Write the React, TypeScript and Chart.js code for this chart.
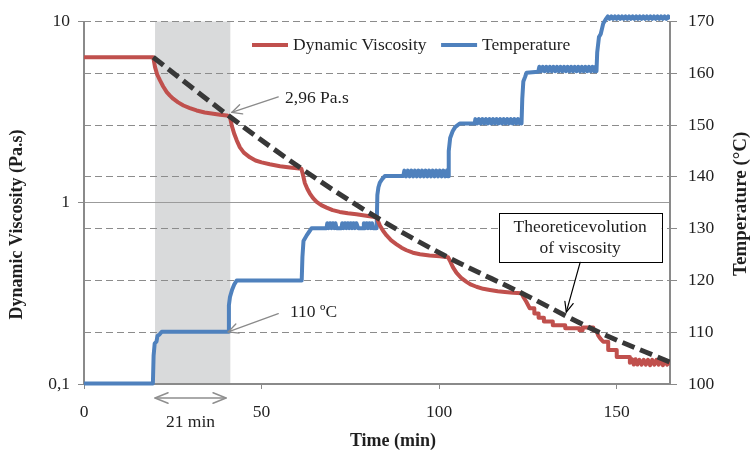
import { useEffect, useRef } from "react";
import { Chart, registerables } from "chart.js";

Chart.register(...registerables);

const FONT = "'Liberation Serif', 'Times New Roman', serif";
const TEXT = "#1f1f1f";
const AXIS = "#8a8a8a";

const seriesLabels = ["Dynamic Viscosity", "Temperature"];
const seriesColors = ["#c0504d", "#4f81bd"];
const theoryColor = "#383838";

const timeTicks = [0, 50, 100, 150];
const viscosityTicks = [0.1, 1, 10];
const viscosityTickLabels = ["0,1", "1", "10"];
const temperatureTicks = [100, 110, 120, 130, 140, 150, 160, 170];

// shaded 21-min window (min)
const heatingWindow = [20, 41.2];

// [time (min), viscosity (Pa.s)]
const viscositySeries: [number, number][] = [
  [0, 6.35], [19.5, 6.35], [20.0, 5.6], [20.6, 5.1], [21.4, 4.73], [22.3, 4.38], [23.3, 4.08],
  [24.2, 3.9], [25.1, 3.75], [26.5, 3.58], [28, 3.44], [29.8, 3.33], [31.7, 3.23], [34, 3.15],
  [36.4, 3.1], [38.3, 3.06], [40.2, 3.03], [41.0, 2.99],
  [41.3, 2.85], [41.6, 2.67], [42.3, 2.4], [43.0, 2.21], [43.9, 2.02], [45.0, 1.89], [46.7, 1.78],
  [48.3, 1.71], [50, 1.67], [52.3, 1.63], [55.2, 1.59], [58, 1.565], [61.2, 1.54],
  [61.6, 1.44], [62.2, 1.28], [62.9, 1.19], [63.6, 1.124], [64.5, 1.06], [65.5, 1.01], [66.8, 0.97],
  [68.3, 0.94], [70, 0.91], [72, 0.89], [74.3, 0.875], [76.7, 0.865], [79, 0.85], [81.4, 0.836], [82.4, 0.83],
  [82.8, 0.79], [83.3, 0.75], [84.2, 0.7], [85.2, 0.66], [86.5, 0.62], [88, 0.59], [89.4, 0.565],
  [90.8, 0.547], [92.6, 0.53], [94.6, 0.52], [97.3, 0.512], [100.2, 0.507], [102.5, 0.5],
  [103.0, 0.48], [103.9, 0.44], [104.9, 0.41], [106.2, 0.385], [107.7, 0.366], [109.0, 0.353],
  [110.5, 0.344], [112.4, 0.335], [114.3, 0.33], [116.5, 0.325], [118.5, 0.322], [120.8, 0.319], [123.2, 0.317],
  [123.8, 0.3], [124.5, 0.285], [125.5, 0.262], [126.8, 0.262], [126.8, 0.245], [128.0, 0.245],
  [128.0, 0.232], [129.5, 0.232], [129.5, 0.221], [132.0, 0.221], [132.0, 0.211], [135.5, 0.211],
  [135.5, 0.203], [139.5, 0.203], [139.5, 0.198], [140.4, 0.198], [140.4, 0.205], [143.4, 0.205],
  [143.4, 0.198], [144.3, 0.196],
  [144.8, 0.185], [145.4, 0.178], [146.2, 0.171], [147.6, 0.171], [147.6, 0.154], [150.0, 0.154],
  [150.0, 0.141], [153.7, 0.141], [153.7, 0.131], [154.3, 0.137], [154.8, 0.128], [155.3, 0.137],
  [155.8, 0.128], [156.4, 0.136], [157, 0.128], [157.6, 0.136], [158.2, 0.128], [158.8, 0.136],
  [159.4, 0.127], [160, 0.136], [160.6, 0.128], [161.2, 0.136], [161.8, 0.128], [162.4, 0.136],
  [163, 0.127], [163.6, 0.136], [164.2, 0.128], [165, 0.132],
];

// [time (min), theoretical viscosity (Pa.s)]
const theorySeries: [number, number][] = [
  [19.5, 6.35], [41.0, 2.99], [61.3, 1.54], [82.4, 0.83], [102.5, 0.5], [123.3, 0.317], [144.3, 0.196], [165, 0.132],
];

// [time (min), temperature (ºC)]
const temperatureSeries: [number, number][] = [
  [0, 100.1], [19.4, 100.1], [19.6, 105.5], [19.9, 107.8], [20.4, 108.2], [20.7, 109.3], [21.3, 109.6],
  [21.9, 110.1], [40.6, 110.1],
  [40.8, 115.2], [41.1, 116.8], [41.7, 118.2], [42.3, 119.2], [43.0, 120.0], [61.3, 120.0],
  [61.5, 124.5], [61.8, 127.6], [62.7, 128.7], [63.4, 129.4], [64.1, 130.1], [68.3, 130.1],
  [68.5, 131.05], [68.9, 130.1], [69.3, 131.05], [69.7, 130.1], [70.1, 131.05], [70.5, 130.1],
  [70.8, 131.05], [71.1, 130.1], [72.5, 130.1], [72.7, 131.05], [73.1, 130.1], [73.5, 131.05],
  [73.9, 130.1], [74.3, 131.05], [74.7, 130.1], [75.1, 131.05], [75.5, 130.1], [75.9, 131.05],
  [76.3, 130.1], [76.7, 131.05], [77.2, 130.1], [78.6, 130.1], [78.8, 131.05], [79.2, 130.1],
  [79.6, 131.05], [80.0, 130.1], [80.4, 131.05], [80.8, 130.1], [81.1, 131.05], [81.4, 130.1],
  [82.4, 130.1], [82.6, 136.5], [82.9, 138.0], [83.3, 138.9], [84.0, 139.6], [84.7, 140.15], [89.9, 140.15],
  [90.2, 141.2], [90.7, 140.1], [91.2, 141.2], [91.7, 140.1], [92.2, 141.2], [92.7, 140.1], [93.2, 141.2],
  [93.7, 140.1], [94.2, 141.2], [94.7, 140.1], [95.2, 141.2], [95.7, 140.1], [96.2, 141.2], [96.7, 140.1],
  [97.2, 141.2], [97.7, 140.1], [98.2, 141.2], [98.7, 140.1], [99.2, 141.2], [99.7, 140.1], [100.2, 141.2],
  [100.7, 140.1], [101.2, 141.2], [101.7, 140.1], [102.2, 141.2], [102.5, 140.1],
  [102.7, 145.0], [103.1, 147.5], [103.8, 148.8], [104.5, 149.6], [105.8, 150.3], [110.0, 150.3],
  [110.2, 151.15], [110.7, 150.3], [111.2, 151.15], [111.7, 150.3], [112.2, 151.15], [112.7, 150.3],
  [113.2, 151.15], [113.7, 150.3], [114.2, 151.15], [114.7, 150.3], [115.2, 151.15], [115.7, 150.3],
  [116.2, 151.15], [116.7, 150.3], [117.2, 151.15], [117.7, 150.3], [118.2, 151.15], [118.7, 150.3],
  [119.2, 151.15], [119.7, 150.3], [120.2, 151.15], [120.7, 150.3], [121.2, 151.15], [121.7, 150.3],
  [122.2, 151.15], [122.7, 150.3], [123.0, 151.15], [123.2, 150.3],
  [123.4, 155.0], [123.7, 158.4], [124.2, 159.3], [124.6, 160.1], [127.9, 160.3],
  [128.2, 161.25], [128.7, 160.4], [129.2, 161.25], [129.7, 160.4], [130.2, 161.25], [130.7, 160.4],
  [131.2, 161.25], [131.7, 160.4], [132.2, 161.25], [132.7, 160.4], [133.2, 161.25], [133.7, 160.4],
  [134.2, 161.25], [134.7, 160.4], [135.2, 161.25], [135.7, 160.4], [136.2, 161.25], [136.7, 160.4],
  [137.2, 161.25], [137.7, 160.4], [138.2, 161.25], [138.7, 160.4], [139.2, 161.25], [139.7, 160.4],
  [140.2, 161.25], [140.7, 160.4], [141.2, 161.25], [141.7, 160.4], [142.2, 161.25], [142.7, 160.4],
  [143.2, 161.25], [143.7, 160.4], [144.1, 161.25], [144.3, 160.4],
  [144.5, 164.0], [145.0, 167.0], [145.5, 167.6], [146.2, 169.6], [147.0, 170.5],
  [147.5, 171.0], [148.0, 170.5], [148.5, 171.0], [149.0, 170.5], [149.5, 171.0], [150.0, 170.5],
  [150.5, 171.0], [151.0, 170.5], [151.5, 171.0], [152.0, 170.5], [152.5, 171.0], [153.0, 170.5],
  [153.5, 171.0], [154.0, 170.5], [154.5, 171.0], [155.0, 170.5], [155.5, 171.0], [156.0, 170.5],
  [156.5, 171.0], [157.0, 170.5], [157.5, 171.0], [158.0, 170.5], [158.5, 171.0], [159.0, 170.5],
  [159.5, 171.0], [160.0, 170.5], [160.5, 171.0], [161.0, 170.5], [161.5, 171.0], [162.0, 170.5],
  [162.5, 171.0], [163.0, 170.5], [163.5, 171.0], [164.0, 170.5], [164.5, 171.0], [165.0, 170.5],
];

// annotation anchors, in data units
const viscosityNote = { text: "2,96 Pa.s", tip: [41.6, 3.15], tail: [54.7, 3.84], at: [56.6, 3.77] };
const temperatureNote = { text: "110 ºC", tip: [40.6, 110.05], tail: [54.7, 113.6], at: [58.0, 113.75] };
const theoryNote = { lines: ["Theoreticevolution", "of viscosity"], center: 139.7, top: 133.0, bottom: 123.5, tip: [135.8, 0.249] };
const windowNote = "21 min";
const axisTitles = { x: "Time (min)", y: "Dynamic Viscosity (Pa.s)", y1: "Temperature (°C)" };

function drawArrow(ctx: CanvasRenderingContext2D, x1: number, y1: number, x2: number, y2: number,
  color: string, width: number, head: number, spread: number, both = false) {
  ctx.save();
  ctx.strokeStyle = color;
  ctx.lineWidth = width;
  ctx.lineCap = "round";
  ctx.lineJoin = "round";
  ctx.beginPath();
  ctx.moveTo(x1, y1);
  ctx.lineTo(x2, y2);
  ctx.stroke();
  const headAt = (tx: number, ty: number, fx: number, fy: number) => {
    const a = Math.atan2(ty - fy, tx - fx);
    ctx.beginPath();
    ctx.moveTo(tx - head * Math.cos(a - spread), ty - head * Math.sin(a - spread));
    ctx.lineTo(tx, ty);
    ctx.lineTo(tx - head * Math.cos(a + spread), ty - head * Math.sin(a + spread));
    ctx.stroke();
  };
  headAt(x2, y2, x1, y1);
  if (both) headAt(x1, y1, x2, y2);
  ctx.restore();
}

const decorPlugin = {
  id: "decor",
  beforeDraw(chart: any) {
    const { ctx, chartArea, scales } = chart;
    const x0 = scales.x.getPixelForValue(heatingWindow[0]);
    const x1 = scales.x.getPixelForValue(heatingWindow[1]);
    ctx.save();
    ctx.fillStyle = "#d9dadb";
    ctx.fillRect(x0, chartArea.top, x1 - x0, chartArea.bottom - chartArea.top);
    ctx.restore();
  },
  afterDatasetsDraw(chart: any) {
    const { ctx, chartArea, scales } = chart;
    const X = (v: number) => scales.x.getPixelForValue(v);
    const Y = (v: number) => scales.y.getPixelForValue(v);
    const T = (v: number) => scales.y1.getPixelForValue(v);

    ctx.save();
    ctx.font = `17.5px ${FONT}`;
    ctx.fillStyle = TEXT;
    ctx.textBaseline = "middle";
    ctx.textAlign = "left";

    // 2,96 Pa.s
    drawArrow(ctx, X(viscosityNote.tail[0]), Y(viscosityNote.tail[1]), X(viscosityNote.tip[0]), Y(viscosityNote.tip[1]), "#8a8a8a", 1.3, 11, 0.45);
    ctx.fillText(viscosityNote.text, X(viscosityNote.at[0]), Y(viscosityNote.at[1]));

    // 110 ºC
    drawArrow(ctx, X(temperatureNote.tail[0]), T(temperatureNote.tail[1]), X(temperatureNote.tip[0]), T(temperatureNote.tip[1]), "#8a8a8a", 1.3, 11, 0.45);
    ctx.fillText(temperatureNote.text, X(temperatureNote.at[0]), T(temperatureNote.at[1]));

    // theoretical box
    const cx = X(theoryNote.center);
    const top = T(theoryNote.top);
    const bottom = T(theoryNote.bottom);
    const halfW = 81.5;
    ctx.fillStyle = "#ffffff";
    ctx.fillRect(cx - halfW, top, halfW * 2, bottom - top);
    ctx.strokeStyle = "#000000";
    ctx.lineWidth = 1;
    ctx.strokeRect(Math.round(cx - halfW) + 0.5, Math.round(top) + 0.5, Math.round(halfW * 2), Math.round(bottom - top));
    ctx.fillStyle = TEXT;
    ctx.textAlign = "center";
    const lh = (bottom - top) / 2.35;
    theoryNote.lines.forEach((line, i) => {
      ctx.fillText(line, cx, top + lh * 0.7 + i * lh);
    });
    drawArrow(ctx, cx, bottom, X(theoryNote.tip[0]), Y(theoryNote.tip[1]), "#000000", 1.2, 11, 0.4);

    // 21 min double arrow below axis
    const ay = chartArea.bottom + 14;
    drawArrow(ctx, X(heatingWindow[0]), ay, X(heatingWindow[1] - 1.2), ay, "#8f8f8f", 1.5, 14, 0.38, true);
    ctx.fillStyle = TEXT;
    ctx.textAlign = "center";
    ctx.fillText(windowNote, X((heatingWindow[0] + heatingWindow[1] - 1.2) / 2), chartArea.bottom + 38);
    ctx.restore();
  },
  afterDraw(chart: any) {
    const { ctx, chartArea } = chart;
    ctx.save();
    // legend
    ctx.font = `17.5px ${FONT}`;
    ctx.textBaseline = "middle";
    ctx.textAlign = "left";
    let lx = chartArea.left + 168;
    const ly = chartArea.top + 23.5;
    seriesLabels.forEach((label, i) => {
      ctx.strokeStyle = seriesColors[i];
      ctx.lineWidth = 4;
      ctx.beginPath();
      ctx.moveTo(lx, ly);
      ctx.lineTo(lx + 36, ly);
      ctx.stroke();
      ctx.fillStyle = TEXT;
      ctx.fillText(label, lx + 41, ly);
      lx += 41 + ctx.measureText(label).width + 14.5;
    });

    // axis titles
    ctx.font = `bold 18px ${FONT}`;
    ctx.fillStyle = TEXT;
    ctx.textAlign = "center";
    ctx.fillText(axisTitles.x, chartArea.left + 309, chart.height - 10);

    ctx.save();
    ctx.translate(17.5, chartArea.top + 203);
    ctx.rotate(-Math.PI / 2);
    ctx.fillText(axisTitles.y, 0, 0);
    ctx.restore();

    ctx.font = `bold 19px ${FONT}`;
    ctx.save();
    ctx.translate(chart.width - 8.5, (chartArea.top + chartArea.bottom) / 2 + 1);
    ctx.rotate(-Math.PI / 2);
    ctx.fillText(axisTitles.y1, 0, 0);
    ctx.restore();

    ctx.restore();
  },
};

export default function App() {
  const canvasRef = useRef<HTMLCanvasElement | null>(null);

  useEffect(() => {
    if (!canvasRef.current) return;
    Chart.defaults.font.family = FONT;
    const chart = new Chart(canvasRef.current, {
      type: "line",
      data: {
        datasets: [
          {
            label: "Theoretic evolution",
            data: theorySeries.map(([x, y]) => ({ x, y })),
            yAxisID: "y",
            borderColor: theoryColor,
            borderWidth: 5,
            borderDash: [13, 6],
            pointRadius: 0,
            cubicInterpolationMode: "monotone",
            fill: false,
            order: 0,
          },
          {
            label: seriesLabels[0],
            data: viscositySeries.map(([x, y]) => ({ x, y })),
            yAxisID: "y",
            borderColor: seriesColors[0],
            borderWidth: 4,
            borderJoinStyle: "round",
            pointRadius: 0,
            tension: 0,
            fill: false,
            order: 1,
          },
          {
            label: seriesLabels[1],
            data: temperatureSeries.map(([x, y]) => ({ x, y })),
            yAxisID: "y1",
            borderColor: seriesColors[1],
            borderWidth: 4,
            borderJoinStyle: "round",
            pointRadius: 0,
            tension: 0,
            fill: false,
            order: 2,
            clip: { left: 0, top: 8, right: 0, bottom: 4 },
          },
        ],
      } as any,
      options: {
        animation: false,
        responsive: false,
        devicePixelRatio: 1,
        events: [],
        layout: { padding: { top: 21, left: 0, right: 0, bottom: 0 } },
        plugins: { legend: { display: false }, tooltip: { enabled: false }, title: { display: false } },
        scales: {
          x: {
            type: "linear",
            min: 0,
            max: 165,
            afterBuildTicks: (s: any) => { s.ticks = timeTicks.map((v) => ({ value: v })); },
            afterFit: (s: any) => { s.height = 67; },
            ticks: { font: { size: 17.5 }, color: TEXT, padding: 13, maxRotation: 0, autoSkip: false },
            grid: { drawOnChartArea: false, tickLength: 5, color: AXIS, lineWidth: 1 },
            border: { color: AXIS, width: 2 },
          },
          y: {
            type: "logarithmic",
            position: "left",
            min: 0.1,
            max: 10,
            afterBuildTicks: (s: any) => { s.ticks = viscosityTicks.map((v) => ({ value: v })); },
            afterFit: (s: any) => { s.width = 84; },
            ticks: {
              font: { size: 17.5 },
              color: TEXT,
              padding: 8,
              autoSkip: false,
              callback: (value: any) => {
                const i = viscosityTicks.findIndex((t) => Math.abs(t - Number(value)) < 1e-9);
                return i >= 0 ? viscosityTickLabels[i] : "";
              },
            },
            grid: {
              color: (c: any) => (c.tick && Math.abs(c.tick.value - 1) < 1e-9 ? "#9b9b9b" : "rgba(0,0,0,0)"),
              tickColor: AXIS,
              tickLength: 6,
              lineWidth: 1,
            },
            border: { color: AXIS, width: 2 },
          },
          y1: {
            type: "linear",
            position: "right",
            min: 100,
            max: 170,
            afterBuildTicks: (s: any) => { s.ticks = temperatureTicks.map((v) => ({ value: v })); },
            afterFit: (s: any) => { s.width = 80; },
            ticks: { font: { size: 17.5 }, color: TEXT, padding: 11, autoSkip: false },
            grid: { color: "#8c8c8c", tickColor: AXIS, tickLength: 7, lineWidth: 1, drawOnChartArea: true },
            border: { color: AXIS, width: 2, dash: [7, 4] },
          },
        },
      } as any,
      plugins: [decorPlugin],
    });
    return () => chart.destroy();
  }, []);

  return (
    <div style={{ position: "fixed", left: 0, top: 0, width: 750, height: 451, background: "#ffffff" }}>
      <canvas ref={canvasRef} width={750} height={451} style={{ display: "block" }} />
    </div>
  );
}
